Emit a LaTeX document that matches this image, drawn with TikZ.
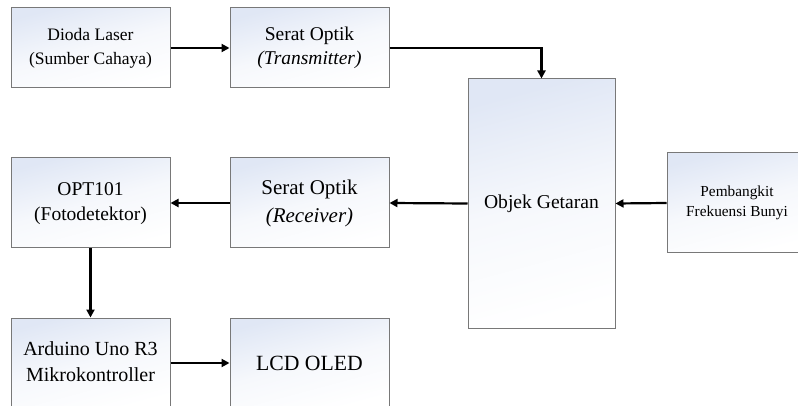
\documentclass[tikz,border=0pt]{standalone}
\usepackage{fontspec}
\setmainfont{Liberation Serif}
\usetikzlibrary{arrows.meta}
\definecolor{boxtop}{RGB}{224,231,245}
\definecolor{boxmid}{RGB}{246,248,252}
\definecolor{boxline}{RGB}{120,120,120}
\newcommand\twolines[3]{\raisebox{-#3}{\begin{tabular}{@{}c@{}}#1\\#2\end{tabular}}}
\begin{document}
\begin{tikzpicture}[x=1pt,y=-1pt,
  blk/.style={draw=boxline,line width=1pt,top color=boxtop,bottom color=white,middle color=boxmid,shading angle=15,
    align=center,inner sep=0pt,minimum width=159pt,minimum height=#1},
  blk/.default=80pt,
  arr/.style={line width=2.2pt,-{Triangle[length=8pt,width=8pt]}}]
\useasboundingbox (0,0) rectangle (798,406);
\clip (0,0) rectangle (798,406);
\node[blk,font={\fontsize{17.5}{24}\selectfont}] (dl) at (90.5,48) {\twolines{Dioda Laser}{(Sumber Cahaya)}{2pt}};
\node[blk,font={\fontsize{19.5}{24}\selectfont}] (st) at (309.5,48) {\twolines{Serat Optik}{\textit{(Transmitter)}}{2pt}};
\node[blk=249pt,minimum width=147pt,font={\fontsize{19.6}{23}\selectfont}] (og) at (541.5,203.5) {Objek Getaran};
\node[blk=90pt,font={\fontsize{19.5}{25}\selectfont}] (opt) at (90.5,203) {\twolines{OPT101}{(Fotodetektor)}{2pt}};
\node[blk=90pt,font={\fontsize{21}{28}\selectfont}] (sr) at (309.5,203) {\twolines{Serat Optik}{\textit{(Receiver)}}{2pt}};
\node[blk=100pt,minimum width=140pt,font={\fontsize{15.3}{20}\selectfont}] (pf) at (737,203) {\twolines{Pembangkit}{Frekuensi Bunyi}{2pt}};
\node[blk=90pt,font={\fontsize{20}{26}\selectfont}] (ar) at (90.5,363) {\twolines{Arduino Uno R3}{Mikrokontroller}{0pt}};
\node[blk=90pt,font={\fontsize{21.7}{26}\selectfont}] (lcd) at (309.5,363) {LCD OLED};
\draw[arr] (dl.east) -- (st.west);
\draw[arr] (st.east) -| (og.north);
\draw[arr] (og.west) -- (sr.east);
\draw[arr] (sr.west) -- (opt.east);
\draw[arr] (pf.west) -- (og.east);
\draw[arr] (opt.south) -- (ar.north);
\draw[arr] (ar.east) -- (lcd.west);
\end{tikzpicture}
\end{document}
